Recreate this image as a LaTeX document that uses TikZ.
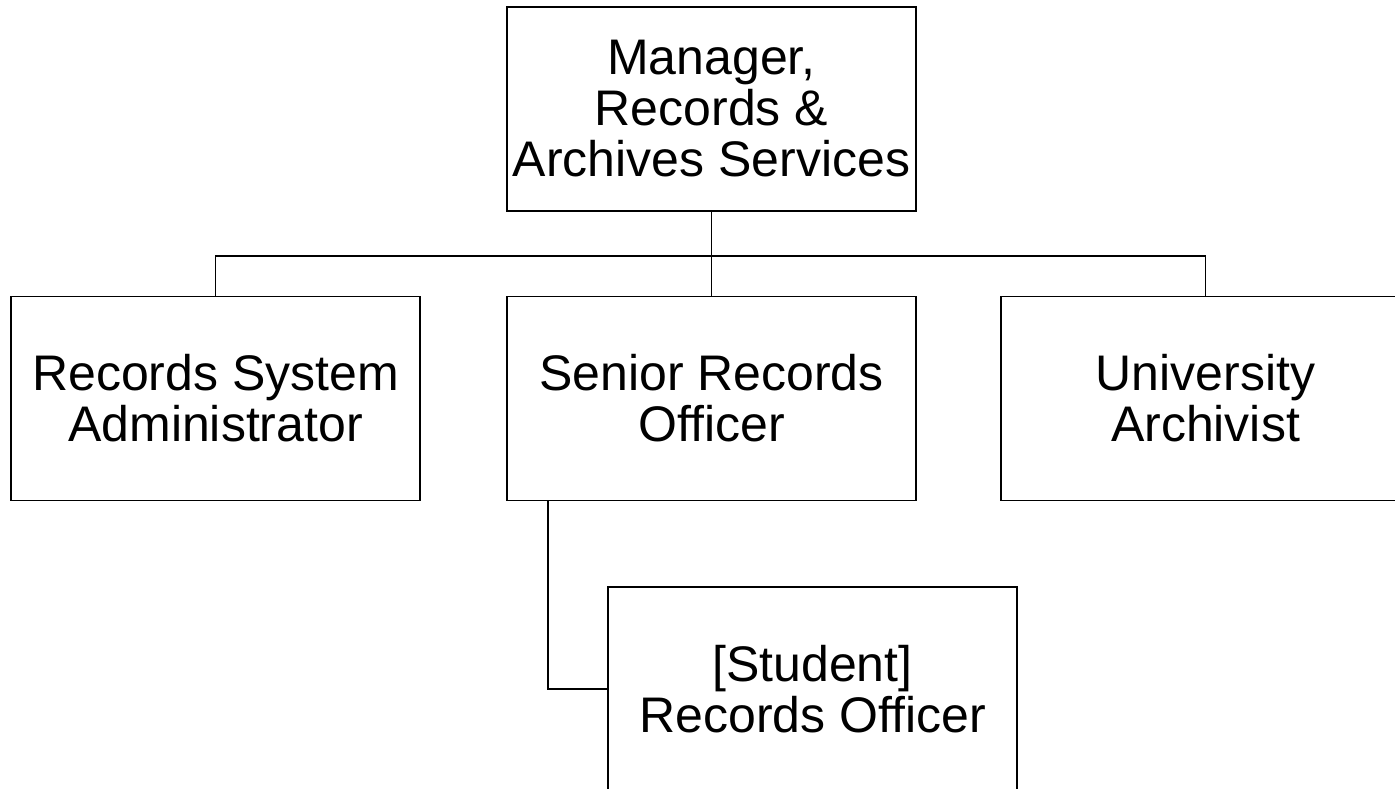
\documentclass[tikz,border=0pt]{standalone}
\usepackage{fontspec}
\setmainfont{Liberation Sans}
\usepackage{tikz}

\tikzset{
    orgbox/.style={draw, line width=1.6pt, minimum width=409pt, minimum height=204pt,
        align=center, inner sep=2pt, font=\fontsize{50}{51}\selectfont},
    orgline/.style={line width=1.6pt}
}

\begin{document}
\begin{tikzpicture}[x=1pt, y=1pt]
    \useasboundingbox (0,0) rectangle (1395,-789);

    % Manager
    \node[orgbox] (mgr) at (711.5,-109) {Manager,\\ Records \&\\ Archives Services};

    % Direct reports
    \node[orgbox] (rsa) at (215.5,-398.5) {Records System\\ Administrator};
    \node[orgbox] (sro) at (711.5,-398.5) {Senior Records\\ Officer};
    \node[orgbox] (ua) at (1205.5,-398.5) {University\\ Archivist};

    % Student records
    \node[orgbox] (stro) at (812.5,-689) {[Student]\\ Records Officer};

    % Connectors
    \draw[orgline] (mgr.south) -- ++(0,-44) coordinate (bus);
    \draw[orgline] (rsa.north) |- (bus) -| (ua.north);
    \draw[orgline] (bus) -- (sro.north);
    \draw[orgline] ([xshift=-163.5pt]sro.south) |- (stro.west);
\end{tikzpicture}
\end{document}
